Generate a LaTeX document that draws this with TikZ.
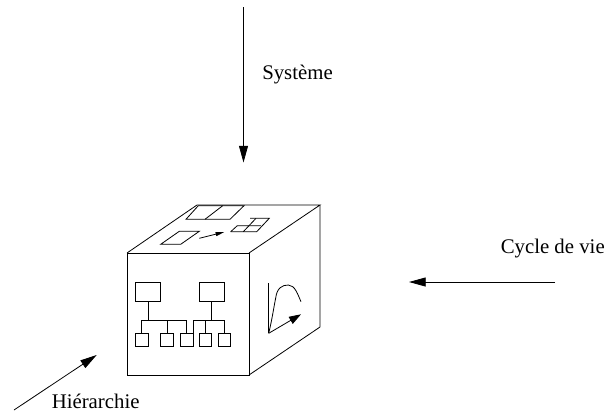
\documentclass[tikz,border=0pt]{standalone}
\usepackage{fontspec}
\setmainfont{Liberation Serif}
\usetikzlibrary{arrows.meta}
\tikzset{
  ln/.style={line width=0.6pt,black},
  bigbox/.style={draw,line width=0.6pt,minimum width=19pt,minimum height=14.25pt,inner sep=0pt,outer sep=0pt},
  smallbox/.style={draw,line width=0.6pt,minimum width=9.5pt,minimum height=10pt,inner sep=0pt,outer sep=0pt},
  lab/.style={font=\fontsize{15.6pt}{18pt}\selectfont,inner sep=0pt},
  arr/.style={ln,-{Triangle[length=12.5pt,width=6.75pt]}},
  arrs/.style={ln,-{Triangle[length=6.5pt,width=3pt]}}
}
\begin{document}
\begin{tikzpicture}[x=0.75pt,y=-0.75pt]
\useasboundingbox (0,0) rectangle (608,412);
% external arrows
\coordinate (s0) at (243.5,7); \coordinate (s1) at (243.5,162.5);
\coordinate (c0) at (555,282); \coordinate (c1) at (409,282);
\coordinate (h0) at (14,410); \coordinate (h1) at (96.7,355);
\draw[arr] (s0) -- (s1);
\draw[arr] (c0) -- (c1);
\draw[arr] (h0) -- (h1);
\node[lab,anchor=base west] (sys) at (262,79.3) {Système};
\node[lab,anchor=base west] (cyc) at (500.5,253.3) {Cycle de vie};
\node[lab,anchor=base west] (hie) at (51.5,408) {Hiérarchie};
% cube
\draw[ln,line join=miter] (127,253) rectangle (249,375);
\draw[ln] (127,253) -- (197,205) -- (320,205) -- (249,253);
\draw[ln] (320,205) -- (320,327) -- (249,375);
% top face
\draw[ln] (186,219.3) -- (198.3,205.7) -- (244,205.7) -- (230,219.3) -- cycle;
\draw[ln] (205,219.3) -- (222.7,205.7);
\draw[ln] (160.7,244.3) -- (179.3,231.3) -- (199.3,231.3) -- (180.7,244.3) -- cycle;
\coordinate (t0) at (199.3,238.3); \coordinate (t1) at (224.3,232);
\draw[arrs] (t0) -- (t1);
\draw[ln] (230.7,231.7) -- (237.3,225.7) -- (261,225.7);
\draw[ln] (230.7,231.7) -- (256.7,231.7) -- (269.3,218.3) -- (250,218.3);
\draw[ln] (243.3,231.7) -- (256,218.3);
% hierarchy on the front face
\node[bigbox] (A) at (148,292.2) {};
\node[bigbox] (B) at (211.7,292.2) {};
\node[smallbox] (a) at (141.7,340) {};
\node[smallbox] (b) at (167,340) {};
\node[smallbox] (c) at (186.8,340) {};
\node[smallbox] (d) at (205.3,340) {};
\node[smallbox] (e) at (224.5,340) {};
\coordinate (busA) at (148,320.7);
\coordinate (busB) at (211.7,320.7);
\draw[ln] (A.south) -- (busA);
\draw[ln] (B.south) -- (busB);
\draw[ln] (a.north) |- (c.north |- busA) -- (c.north);
\draw[ln] (b.north) -- (b.north |- busA);
\draw[ln] (c.north east) -- (c.north east |- busB) -| (e.north);
\draw[ln] (d.north) -- (d.north |- busB);
% right face
\coordinate (o) at (268.7,333.3);
\coordinate (y) at (268.7,283.3);
\coordinate (x) at (301,314.3);
\draw[ln] (y) -- (o);
\draw[ln,-{Triangle[length=9pt,width=6pt]}] (o) -- (x);
\draw[ln] (o) .. controls (272,320) and (274,306) .. (275.7,298)
  .. controls (277,288) and (282,285) .. (288.3,285)
  .. controls (295,285) and (298,295) .. (301,301.7);
\end{tikzpicture}
\end{document}
